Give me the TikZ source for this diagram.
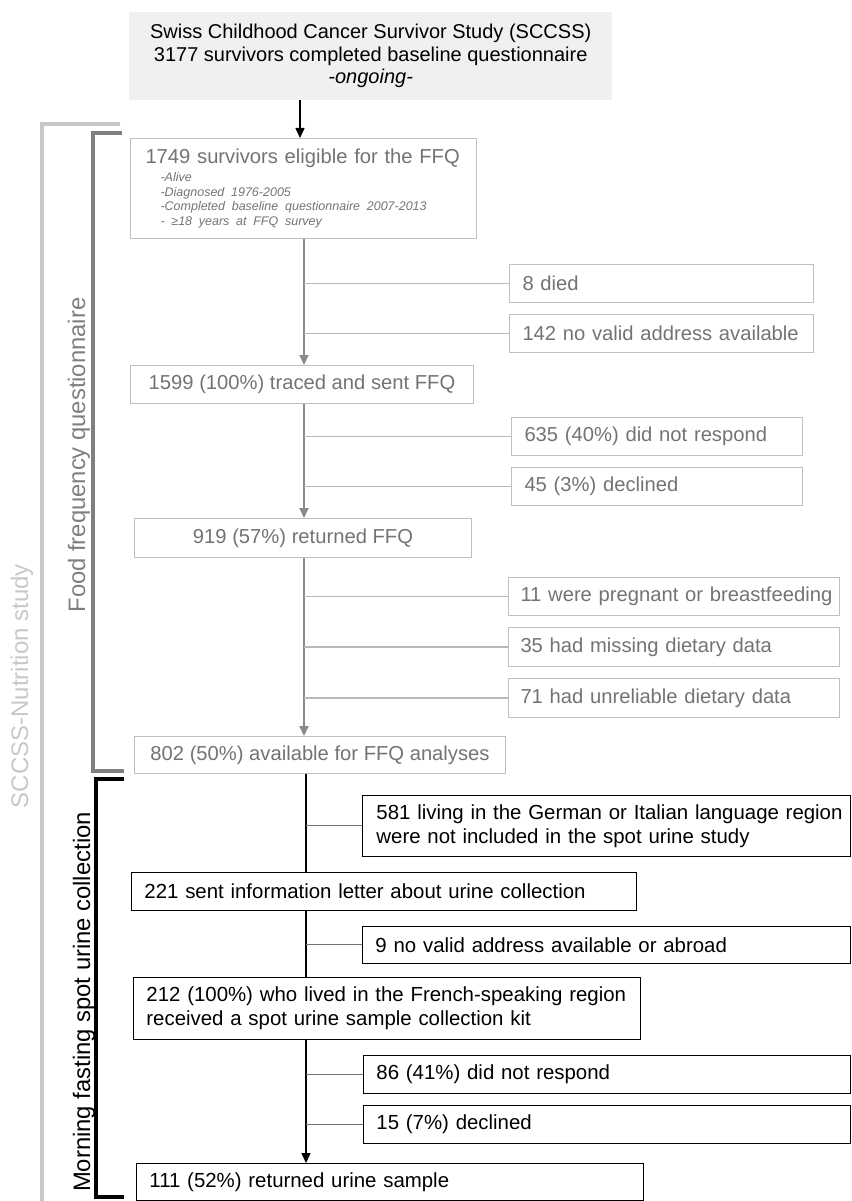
\documentclass[tikz,border=0pt]{standalone}
\usepackage{fontspec}
\setmainfont{Liberation Sans}
\usetikzlibrary{arrows.meta,calc}
\definecolor{topfill}{HTML}{F0F0F0}
\definecolor{gborder}{HTML}{BFBFBF}
\definecolor{gtext}{HTML}{737373}
\definecolor{gline}{HTML}{8A8A8A}
\definecolor{gbranch}{HTML}{B8B8B8}
\definecolor{lbrack}{HTML}{C8C8C8}
\definecolor{dbrack}{HTML}{7F7F7F}
\newcommand{\gfnt}{\fontsize{20.2}{24}\selectfont}
\newcommand{\blkfnt}{\fontsize{20.4}{24}\selectfont}
\begin{document}
\begin{tikzpicture}[x=1pt,y=-1pt,
 topbox/.style={fill=topfill, anchor=north west, inner sep=0pt, align=center, font=\fontsize{20}{22.5}\selectfont},
 gmain/.style={draw=gborder, line width=1pt, text=gtext, anchor=north west, inner sep=0pt, align=center, font=\gfnt},
 gside/.style={draw=gborder, line width=1pt, text=gtext, anchor=north west, inner xsep=13pt, inner ysep=0pt, align=left, font=\gfnt},
 bbox/.style={draw=black, line width=0.9pt, anchor=north west, inner xsep=13pt, inner ysep=0pt, align=left, font=\blkfnt},
 garrow/.style={draw=gline, line width=1.8pt, -{Triangle[length=10pt,width=9pt]}},
 gbr/.style={draw=gbranch, line width=1.4pt},
 barrow/.style={draw=black, line width=1.5pt, -{Triangle[length=10pt,width=9pt]}},
 bvline/.style={draw=black, line width=1.5pt},
 bbr/.style={draw=black!55, line width=1pt},
 bracket/.style={line width=3.5pt},
 sidelabel/.style={rotate=90, inner sep=0pt},
]
\useasboundingbox (0,0) rectangle (851,1201);

% coordinates of the vertical flow lines
\coordinate (tx) at (300,0);
\coordinate (gx) at (304,0);
\coordinate (bx) at (306,0);

% top box
\node[topbox, minimum width=483pt, minimum height=88pt] (top) at (129,12)
  {Swiss Childhood Cancer Survivor Study (SCCSS)\\3177 survivors completed baseline questionnaire\\\textit{-ongoing-}};

% FFQ part
\node[gside, inner xsep=15pt, text width=316pt, minimum height=100pt] (n1749) at (130,138)
  {\gfnt\mbox{1749 survivors eligible for the FFQ}\\[3.5pt]
   \fontsize{12.5}{14.7}\selectfont\itshape
   \hspace*{15pt}-Alive\\
   \hspace*{15pt}-Diagnosed 1976-2005\\
   \hspace*{15pt}\mbox{-Completed baseline questionnaire 2007-2013}\\
   \hspace*{15pt}- ≥18 years at FFQ survey\par};
\node[gside, text width=278pt, minimum height=38pt] (n8) at (509,264) {8 died};
\node[gside, text width=278pt, minimum height=38pt] (n142) at (509,314) {\mbox{142 no valid address available}};
\node[gmain, minimum width=343pt, minimum height=38pt] (n1599) at (130,365) {1599 (100\%) traced and sent FFQ};
\node[gside, text width=265pt, minimum height=38pt] (n635) at (511,417) {\mbox{635 (40\%) did not respond}};
\node[gside, text width=265pt, minimum height=38pt] (n45) at (511,467) {45 (3\%) declined};
\node[gmain, minimum width=337pt, minimum height=39pt] (n919) at (134,518) {919 (57\%) returned FFQ};
\node[gside, inner xsep=12pt, text width=307pt, minimum height=38pt] (n11) at (508,577) {\mbox{11 were pregnant or breastfeeding}};
\node[gside, inner xsep=12pt, text width=307pt, minimum height=39pt] (n35) at (508,627) {\mbox{35 had missing dietary data}};
\node[gside, inner xsep=12pt, text width=307pt, minimum height=39pt] (n71) at (508,678) {\mbox{71 had unreliable dietary data}};
\node[gmain, minimum width=371pt, minimum height=37pt] (n802) at (134,736) {802 (50\%) available for FFQ analyses};

% urine part
\node[bbox, inner xsep=14pt, text width=460pt, minimum height=61pt] (n581) at (362,795)
  {\mbox{581 living in the German or Italian language region}\\\mbox{were not included in the spot urine study}};
\node[bbox, text width=479pt, minimum height=38pt] (n221) at (131,872) {\mbox{221 sent information letter about urine collection}};
\node[bbox, text width=462pt, minimum height=37pt] (n9) at (362,926) {\mbox{9 no valid address available or abroad}};
\node[bbox, text width=481pt, minimum height=62pt] (n212) at (133,977)
  {\mbox{212 (100\%) who lived in the French-speaking region}\\\mbox{received a spot urine sample collection kit}};
\node[bbox, text width=461pt, minimum height=38pt] (n86) at (363,1055) {\mbox{86 (41\%) did not respond}};
\node[bbox, text width=461pt, minimum height=38pt] (n15) at (363,1105) {15 (7\%) declined};
\node[bbox, text width=481pt, minimum height=37pt] (n111) at (136,1163) {\mbox{111 (52\%) returned urine sample}};

% connectors
\draw[barrow] (top.south -| tx) -- (n1749.north -| tx);
\draw[garrow] (n1749.south -| gx) -- (n1599.north -| gx);
\draw[gbr] (gx |- n8.west) -- (n8.west);
\draw[gbr] (gx |- n142.west) -- (n142.west);
\draw[garrow] (n1599.south -| gx) -- (n919.north -| gx);
\draw[gbr] (gx |- n635.west) -- (n635.west);
\draw[gbr] (gx |- n45.west) -- (n45.west);
\draw[garrow] (n919.south -| gx) -- (n802.north -| gx);
\draw[gbr] (gx |- n11.west) -- (n11.west);
\draw[gbr] (gx |- n35.west) -- (n35.west);
\draw[gbr] (gx |- n71.west) -- (n71.west);

\draw[bvline] (n802.south -| bx) -- (n221.north -| bx);
\draw[bbr] (bx |- n581.west) -- (n581.west);
\draw[bvline] (n221.south -| bx) -- (n212.north -| bx);
\draw[bbr] (bx |- n9.west) -- (n9.west);
\draw[barrow] (n212.south -| bx) -- (n111.north -| bx);
\draw[bbr] (bx |- n86.west) -- (n86.west);
\draw[bbr] (bx |- n15.west) -- (n15.west);

% brackets
\draw[lbrack, bracket] (120,124) -- (42,124) -- (42,1201);
\draw[dbrack, bracket] (122,133) -- (93,133) -- (93,771) -- (124,771);
\draw[black, bracket] (124,779) -- (96,779) -- (96,1197) -- (124,1197);

% bracket labels
\node[sidelabel, text=lbrack, font=\fontsize{24}{24}\selectfont] (labA) at (22,686) {SCCSS-Nutrition study};
\node[sidelabel, text=dbrack, font=\fontsize{23.8}{24}\selectfont] (labB) at (79,455) {Food frequency questionnaire};
\node[sidelabel, text=black, font=\fontsize{23.8}{24}\selectfont] (labC) at (84,1002) {Morning fasting spot urine collection};
\end{tikzpicture}
\end{document}
